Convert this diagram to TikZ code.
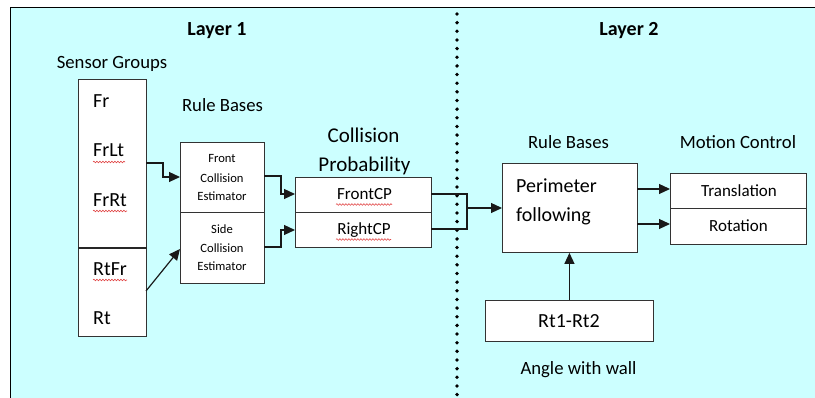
\documentclass[tikz,border=0pt]{standalone}
\usepackage{fontspec}
\setmainfont{Carlito}
\usetikzlibrary{arrows.meta,decorations.pathmorphing}
\definecolor{bgcyan}{RGB}{204,255,255}
\definecolor{spell}{RGB}{225,70,70}
\begin{document}
\begin{tikzpicture}[x=1pt,y=-1pt,
  box/.style={draw=black!80, fill=white, line width=0.9pt, rectangle, inner sep=0pt, anchor=north west},
  conn/.style={line width=1.2pt, draw=black!90},
  arr/.style={conn, -{Triangle[length=11pt,width=10pt]}},
  lbl/.style={anchor=base, inner sep=0pt, font=\fontsize{18.7}{22}\selectfont},
  ttl/.style={anchor=base, inner sep=0pt, font=\fontsize{20}{24}\selectfont\bfseries},
  big/.style={anchor=base, inner sep=0pt, font=\fontsize{20}{24}\selectfont},
  mid/.style={anchor=base, inner sep=0pt, font=\fontsize{17}{20}\selectfont},
  small/.style={anchor=base, inner sep=0pt, font=\fontsize{12.6}{15}\selectfont},
  wavy/.style={draw=spell, line width=0.6pt, decorate, decoration={snake, amplitude=0.8pt, segment length=3pt}}]
\useasboundingbox (0,0) rectangle (815,398);
% background
\fill[bgcyan] (10,8) rectangle (815,398);
\draw[line width=1pt] (10,398) -- (10,8) -- (815,8);
% dotted separator
\draw[line width=3.8pt, line cap=round, dash pattern=on 0pt off 8.65pt] (457,14) -- (457,398);

% titles
\node[ttl] (l1) at (217,36) {Layer 1};
\node[ttl] (l2) at (629,36) {Layer 2};
\node[lbl] (sg) at (112,69) {Sensor Groups};
\node[lbl] (rb1) at (222.5,112) {Rule Bases};
\node[big, font=\fontsize{21}{25}\selectfont] (cp1) at (363.5,143) {Collision};
\node[big, font=\fontsize{21}{25}\selectfont] (cp2) at (364.5,172) {Probability};
\node[lbl] (rb2) at (568.5,149) {Rule Bases};
\node[lbl] (mc) at (738,149) {Motion Control};
\node[lbl] (aw) at (578.5,375) {Angle with wall};

% sensor boxes
\node[box, minimum width=68pt, minimum height=169pt] (sensA) at (78,79) {};
\node[box, minimum width=68pt, minimum height=88pt] (sensB) at (78,248) {};
\draw[line width=1.8pt, black!85] (sensB.north west) -- (sensB.north east);
\node[big, anchor=base west] (fr) at (93,108) {Fr};
\node[big, anchor=base west] (frlt) at (93,157) {FrLt};
\node[big, anchor=base west] (frrt) at (93,207) {FrRt};
\node[big, anchor=base west] (rtfr) at (93,276) {RtFr};
\node[big, anchor=base west] (rt) at (93,325) {Rt};
\draw[wavy] (93,162) -- (125,162);
\draw[wavy] (93,211) -- (127,211);
\draw[wavy] (93,280) -- (127,280);

% estimator boxes
\node[box, minimum width=84pt, minimum height=70pt] (front) at (180,142) {};
\node[box, minimum width=84pt, minimum height=71pt] (side) at (180,212) {};
\node[small] (f1) at (222,163) {Front};
\node[small] (f2) at (222,183) {Collision};
\node[small] (f3) at (222,200.5) {Estimator};
\node[small] (s1) at (222,234) {Side};
\node[small] (s2) at (222,253) {Collision};
\node[small] (s3) at (222,271) {Estimator};

% CP boxes
\node[box, minimum width=136pt, minimum height=35pt] (fcp) at (295,177) {};
\node[box, minimum width=136pt, minimum height=35pt] (rcp) at (295,212) {};
\node[mid] (fcpt) at (364.5,200) {FrontCP};
\node[mid] (rcpt) at (364,235) {RightCP};
\draw[wavy] (336,204.5) -- (392,204.5);
\draw[wavy] (336,239.5) -- (391,239.5);

% layer 2 boxes
\node[box, minimum width=135pt, minimum height=89pt] (perim) at (502,163) {};
\node[big, anchor=base west] (p1) at (516,193) {Perimeter};
\node[big, anchor=base west] (p2) at (516,222) {following};
\node[box, minimum width=136pt, minimum height=35pt] (trans) at (670,173) {};
\node[box, minimum width=136pt, minimum height=36pt] (rot) at (670,208) {};
\node[mid] (tt) at (739,197) {Translation};
\node[mid] (rtt) at (738.5,232) {Rotation};
\node[box, minimum width=168pt, minimum height=41pt] (rtb) at (485,300) {};
\node[big] (rtbt) at (569,328) {Rt1-Rt2};

% connector coordinates
\coordinate (a1) at (146,163);
\coordinate (a2) at (163,163);
\coordinate (a3) at (163,177);
\coordinate (a4) at (180,177);
\coordinate (b1) at (146,291);
\coordinate (b2) at (180,249);
\coordinate (c1) at (264,176);
\coordinate (c2) at (281,176);
\coordinate (c3) at (281,194);
\coordinate (c4) at (295,194);
\coordinate (d1) at (264,247);
\coordinate (d2) at (281,247);
\coordinate (d3) at (281,230);
\coordinate (d4) at (295,230);
\coordinate (e1) at (431,194);
\coordinate (e2) at (467,194);
\coordinate (e3) at (467,229);
\coordinate (e4) at (431,229);
\coordinate (e5) at (467,208);
\coordinate (e6) at (502,208);
\coordinate (g1) at (637,189);
\coordinate (g2) at (670,189);
\coordinate (h1) at (637,224);
\coordinate (h2) at (670,224);

% connectors
\draw[arr] (a1) -- (a2) -- (a3) -- (a4);
\draw[arr] (b1) -- (b2);
\draw[arr] (c1) -- (c2) -- (c3) -- (c4);
\draw[arr] (d1) -- (d2) -- (d3) -- (d4);
\draw[conn] (e1) -- (e2) -- (e3) -- (e4);
\draw[arr] (e5) -- (e6);
\draw[arr] (g1) -- (g2);
\draw[arr] (h1) -- (h2);
\draw[arr] (rtb.north) -- (perim.south -| rtb.north);
\end{tikzpicture}
\end{document}
